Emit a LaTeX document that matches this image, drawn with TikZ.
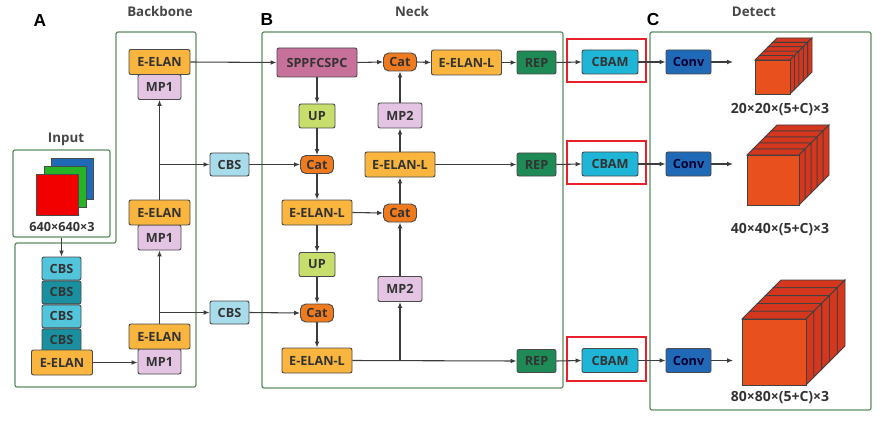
\documentclass[tikz,border=0pt]{standalone}
\usepackage{fontspec}
\setmainfont{Open Sans}
\newfontfamily\tagfont{Liberation Sans}
\usepackage{xcolor}
\usetikzlibrary{arrows.meta,calc,positioning}

\definecolor{wire}{HTML}{3C3C3C}
\definecolor{edge}{HTML}{4A4A4A}
\definecolor{txt}{HTML}{333333}
\definecolor{panel}{HTML}{5E8C62}
\definecolor{hired}{HTML}{E8202A}
\definecolor{elanc}{HTML}{F9B53D}
\definecolor{mpc}{HTML}{E3C4E3}
\definecolor{cbslt}{HTML}{52C4DC}
\definecolor{cbsdk}{HTML}{1A8FA0}
\definecolor{cbspale}{HTML}{A9DCEA}
\definecolor{sppc}{HTML}{C7719A}
\definecolor{catc}{HTML}{F07A1E}
\definecolor{upc}{HTML}{C8DE6C}
\definecolor{repc}{HTML}{1E8A55}
\definecolor{cbamc}{HTML}{1EB5D6}
\definecolor{convc}{HTML}{1F69B6}
\definecolor{cubefr}{HTML}{E8501E}
\definecolor{cubesd}{HTML}{D4361E}

% slab cube: x y w h depth (pixel units)
\newcommand{\slabcube}[5]{%
  \foreach \k in {4,3,2,1,0}{
    \pgfmathsetmacro{\a}{#1+\k*#5/5}
    \pgfmathsetmacro{\b}{#2-\k*#5/5}
    \pgfmathsetmacro{\c}{#5/5}
    \filldraw[fill=cubesd, draw=black!75, line width=0.6pt] (\a,\b) -- ++(#3,0) -- ++(\c,-\c) -- ++(-#3,0) -- cycle;
    \filldraw[fill=cubesd, draw=black!75, line width=0.6pt] ({\a+#3},\b) -- ++(\c,-\c) -- ++(0,#4) -- ++(-\c,\c) -- cycle;
  }
  \filldraw[fill=cubefr, draw=black!75, line width=0.6pt] (#1,#2) rectangle ++(#3,#4);
}

\begin{document}
\begin{tikzpicture}[x=0.75pt,y=-0.75pt,
  blk/.style={draw=edge, line width=0.7pt, rounded corners=1.5pt, inner sep=0pt, text=txt,
    font=\bfseries\fontsize{9.5}{11}\selectfont},
  elan/.style={blk, fill=elanc, minimum width=45.75pt, minimum height=18.75pt},
  elanl/.style={blk, fill=elanc, minimum width=52.5pt, minimum height=18.75pt},
  mp/.style={blk, fill=mpc, minimum width=32.25pt, minimum height=18.75pt},
  cbs/.style={blk, minimum width=29.25pt, minimum height=17.25pt},
  cat/.style={blk, fill=catc, rounded corners=4pt, minimum width=24.75pt, minimum height=13.5pt},
  up/.style={blk, fill=upc, minimum width=27pt, minimum height=18pt},
  rep/.style={blk, fill=repc, minimum width=29.25pt, minimum height=17.25pt},
  cbam/.style={blk, fill=cbamc, minimum width=42pt, minimum height=18pt},
  conv/.style={blk, fill=convc, text=black!80!blue, minimum width=33.75pt, minimum height=18pt},
  link/.style={draw=wire, line width=0.8pt, -{Latex[length=4.5pt,width=3.6pt]}},
  frame/.style={draw=panel, line width=0.9pt, rounded corners=1.5pt},
  hilite/.style={draw=hired, line width=1.5pt},
  title/.style={text=txt!90, font=\bfseries\fontsize{10}{12}\selectfont},
  dims/.style={text=txt, font=\bfseries\fontsize{10.5}{12}\selectfont},
  tag/.style={font=\tagfont\bfseries\fontsize{13}{15}\selectfont}]

\fill[white] (0,0) rectangle (888,424);
\useasboundingbox (0,0) rectangle (888,424);

% panels and titles
\draw[frame] (116,32) -- (196,32) -- (196,387) -- (15,387) -- (15,243) -- (116,243) -- cycle;
\draw[frame] (262,32) rectangle (563,388);
\draw[frame] (650,32) rectangle (871,410);

\node[tag] (tagA) at (40,21) {A};
\node[tag] (tagB) at (267,20) {B};
\node[tag] (tagC) at (653,20) {C};
\node[title] (tBack) at (160,12) {Backbone};
\node[title] (tNeck) at (412,12) {Neck};
\node[title] (tDet) at (754,12) {Detect};
\node[title] (tIn) at (66,139) {Input};

% input
\node[frame, minimum width=72.75pt, minimum height=65.25pt, inner sep=0pt] (inbox) at (61.5,193.5) {};
\filldraw[fill=convc, draw=edge, line width=0.6pt] (51,158) rectangle (93,199);
\filldraw[fill=green!65!black!85, draw=edge, line width=0.6pt] (44,166) rectangle (86,207);
\filldraw[fill=red!95!black, draw=edge, line width=0.6pt] (36,174) rectangle (78,215);
\node[dims, font=\bfseries\fontsize{9.5}{11}\selectfont] (inDim) at (62,227) {640×640×3};

% backbone
\node[cbs, fill=cbslt] (cbs1) at (61.5,268.5) {CBS};
\node[cbs, fill=cbsdk, below=0pt of cbs1] (cbs2) {CBS};
\node[cbs, fill=cbslt, below=0pt of cbs2] (cbs3) {CBS};
\node[cbs, fill=cbsdk, below=0pt of cbs3] (cbs4) {CBS};
\node[elan] (elan0) at (62,362.5) {E-ELAN};

\node[mp] (mpA) at (159.5,87) {MP1};
\node[elan] (elanA) at (159.5,62) {E-ELAN};
\node[mp] (mpB) at (159.5,237.5) {MP1};
\node[elan] (elanB) at (159.5,212.5) {E-ELAN};
\node[mp] (mpC) at (159.5,361.5) {MP1};
\node[elan] (elanC) at (159.5,336.5) {E-ELAN};

\node[cbs, fill=cbspale] (cbsM) at (229.5,164.5) {CBS};
\node[cbs, fill=cbspale] (cbsL) at (229.5,312.5) {CBS};

\draw[link] (inbox.south) -- (cbs1.north);
\draw[link] (elan0.east) -- (mpC.west |- elan0.east);
\draw[link] (elanC.north) -- (mpB.south);
\draw[link] (elanC.north |- cbsL.west) -- (cbsL.west);
\draw[link] (elanB.north) -- (mpA.south);
\draw[link] (elanB.north |- cbsM.west) -- (cbsM.west);

% neck
\node[blk, fill=sppc, minimum width=60pt, minimum height=21.75pt] (spp) at (317,62.5) {SPPFCSPC};
\node[cat] (catT) at (400,62) {Cat};
\node[elanl] (elT) at (466.5,62.5) {E-ELAN-L};
\node[rep] (repT) at (536.5,62.5) {REP};

\node[up] (up1) at (317,116) {UP};
\node[mp, minimum width=33pt] (mp2a) at (400,115.5) {MP2};
\node[cat] (cat2) at (317,164.5) {Cat};
\node[elanl] (elM) at (400,164.5) {E-ELAN-L};
\node[rep] (repM) at (536.5,164.5) {REP};

\node[elanl] (el2) at (317,212.5) {E-ELAN-L};
\node[cat] (cat3) at (400,213) {Cat};
\node[up] (up2) at (317,264.5) {UP};
\node[mp, minimum width=33pt] (mp2b) at (400,289) {MP2};
\node[cat] (cat4) at (317,313) {Cat};
\node[elanl] (el3) at (317,360.5) {E-ELAN-L};
\node[rep] (repB) at (536.5,361) {REP};

\draw[link] (elanA.east) -- (spp.west);
\draw[link] (spp.east) -- (catT.west);
\draw[link] (catT.east) -- (elT.west);
\draw[link] (elT.east) -- (repT.west);
\draw[link] (spp.south) -- (up1.north);
\draw[link] (up1.south) -- (cat2.north);
\draw[link] (cbsM.east) -- (cat2.west);
\draw[link] (cat2.south) -- (el2.north);
\draw[link] (el2.south) -- (up2.north);
\draw[link] (up2.south) -- (cat4.north);
\draw[link] (cbsL.east) -- (cat4.west);
\draw[link] (cat4.south) -- (el3.north);
\draw[link] (el2.east) -- (cat3.west);
\draw[link] (cat3.north) -- (elM.south);
\draw[link] (elM.north) -- (mp2a.south);
\draw[link] (mp2a.north) -- (catT.south);
\draw[link] (elM.east) -- (repM.west);
\draw[link] (el3.east) -- (repB.west);
\draw[link] (mp2b.south |- el3.east) -- (mp2b.south);
\draw[link] (mp2b.north) -- (cat3.south);

% detect
\foreach \r/\y in {T/62,M/164,B/360.5}{
  \node[cbam] (cbam\r) at (610,\y) {CBAM};
  \node[conv] (conv\r) at (688.5,\y) {Conv};
  \coordinate (out\r) at (733,\y);
  \draw[hilite] ($(cbam\r.south west)+(-15,8)$) rectangle ($(cbam\r.north east)+(8,-11)$);
  \draw[link] (cbam\r.east) -- (conv\r.west);
  \draw[link] (conv\r.east) -- (out\r);
}
\draw[link] (repT.east) -- (cbamT.west);
\draw[link] (repM.east) -- (cbamM.west);
\draw[link] (repB.east) -- (cbamB.west);

\slabcube{755}{60}{35}{34}{22}
\slabcube{747}{155}{52}{50}{30}
\slabcube{742}{319}{64}{66}{39}
\node[dims] (dimT) at (780,110) {20×20×(5+C)×3};
\node[dims] (dimM) at (780,230) {40×40×(5+C)×3};
\node[dims] (dimB) at (780,398) {80×80×(5+C)×3};

\end{tikzpicture}
\end{document}
